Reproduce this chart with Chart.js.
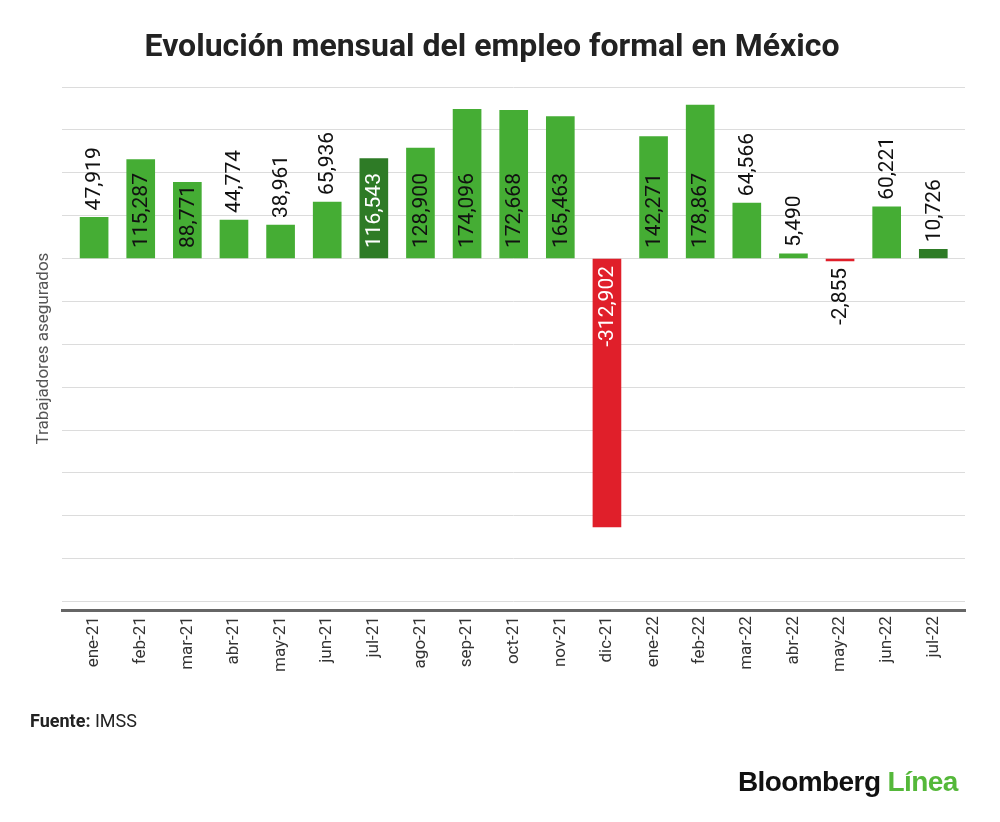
<!DOCTYPE html>
<html>
<head>
<meta charset="utf-8">
<script src="https://cdn.jsdelivr.net/npm/chart.js@4.4.0/dist/chart.umd.min.js"></script>
<style>
html,body{margin:0;padding:0;background:#fff;}
#wrap{position:relative;width:1000px;height:822px;overflow:hidden;font-family:Roboto,sans-serif;}
#cv{position:absolute;left:0;top:0;}
#title{position:absolute;top:28px;left:0;width:984px;text-align:center;font-weight:700;font-size:32px;line-height:34px;color:#222;white-space:nowrap;}
#src{position:absolute;left:30px;top:710px;font-size:18px;line-height:22px;color:#222;}
#logo{position:absolute;left:738px;top:766px;font-family:"Liberation Sans",Arial,sans-serif;font-weight:700;font-size:28px;line-height:32px;letter-spacing:-0.6px;color:#111;white-space:nowrap;}
#logo span{color:#55b83a;}
</style>
</head>
<body>
<div id="wrap">
  <canvas id="cv" width="1000" height="822"></canvas>
  <div id="title">Evolución mensual del empleo formal en México</div>
  <div id="src"><b>Fuente:</b> IMSS</div>
  <div id="logo">Bloomberg <span>Línea</span></div>
</div>
<script>
const months = ['ene-21','feb-21','mar-21','abr-21','may-21','jun-21','jul-21','ago-21','sep-21','oct-21','nov-21','dic-21','ene-22','feb-22','mar-22','abr-22','may-22','jun-22','jul-22'];
const values = [47919,115287,88771,44774,38961,65936,116543,128900,174096,172668,165463,-312902,142271,178867,64566,5490,-2855,60221,10726];
const yTicks = [200000,150000,100000,50000,0,-50000,-100000,-150000,-200000,-250000,-300000,-350000,-400000];

const GREEN = '#45ad34';
const DARK = '#2e7b26';
const RED = '#e01f2a';
const isDark = i => months[i].startsWith('jul');
const barColor = i => values[i] < 0 ? RED : (isDark(i) ? DARK : GREEN);

const barLabels = {
  id: 'barLabels',
  afterDatasetsDraw(chart) {
    const ctx = chart.ctx;
    const meta = chart.getDatasetMeta(0);
    ctx.save();
    ctx.font = '21px Roboto';
    ctx.textBaseline = 'middle';
    meta.data.forEach((bar, i) => {
      const v = values[i];
      const txt = v.toLocaleString('en-US');
      const w = ctx.measureText(txt).width;
      const len = Math.abs(bar.base - bar.y);
      const inside = len >= w + 8;
      const pos = v >= 0;
      let y, align, color = '#111';
      if (inside) {
        if (pos) { y = bar.base - 10; align = 'left'; } else { y = bar.base + 7; align = 'right'; }
        if (v < 0 || isDark(i)) color = '#fff';
      } else {
        if (pos) { y = bar.y - 7; align = 'left'; } else { y = bar.y + 7; align = 'right'; }
      }
      ctx.save();
      ctx.translate(bar.x + 1, y);
      ctx.rotate(-Math.PI / 2);
      ctx.textAlign = align;
      ctx.fillStyle = color;
      ctx.fillText(txt, 0, 0);
      ctx.restore();
    });
    ctx.restore();
  }
};

new Chart(document.getElementById('cv'), {
  type: 'bar',
  data: {
    datasets: [{
      data: values.map((v, i) => ({ x: i, y: v })),
      backgroundColor: ctx => barColor(ctx.dataIndex),
      barThickness: 28,
      borderWidth: 0
    }]
  },
  options: {
    responsive: false,
    animation: false,
    layout: { padding: { top: 87, left: 30, right: 35, bottom: 144 } },
    plugins: { legend: { display: false }, tooltip: { enabled: false } },
    scales: {
      x: {
        type: 'linear',
        offset: false,
        min: -0.68,
        max: 18.68,
        afterBuildTicks: s => { s.ticks = months.map((m, i) => ({ value: i })); },
        grid: { display: false, drawTicks: false, offset: false },
        border: { display: true, color: '#666', width: 3 },
        ticks: {
          autoSkip: false, minRotation: 90, maxRotation: 90, padding: 6,
          color: '#333', font: { family: 'Roboto', size: 17 },
          callback: v => months[v]
        }
      },
      y: {
        min: -410000,
        max: 200000,
        afterBuildTicks: s => { s.ticks = yTicks.map(v => ({ value: v })); },
        grid: { color: '#dcdcdc', lineWidth: 1, drawTicks: false },
        border: { display: false },
        ticks: { display: false },
        title: {
          display: true, text: 'Trabajadores asegurados', color: '#555',
          font: { family: 'Roboto', size: 17 }, padding: { top: 4, bottom: 8 }
        }
      }
    }
  },
  plugins: [barLabels]
});
</script>
</body>
</html>
